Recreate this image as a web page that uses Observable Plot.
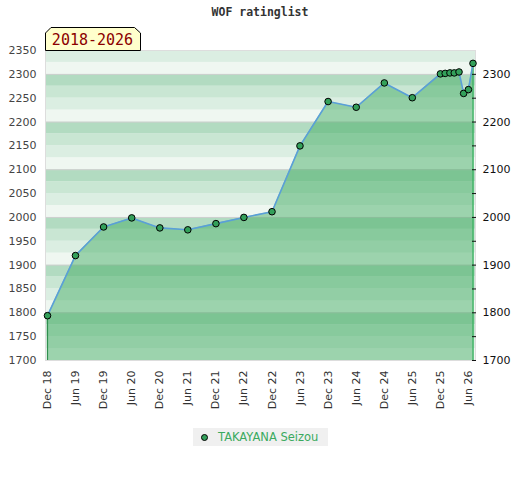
<!DOCTYPE html>
<html>
<head>
<meta charset="utf-8">
<script src="https://cdn.jsdelivr.net/npm/d3@7"></script>
<script src="https://cdn.jsdelivr.net/npm/@observablehq/plot@0.6"></script>
<style>
  html, body { margin: 0; padding: 0; background: #fff; }
  #wrap { position: relative; width: 520px; height: 480px; overflow: hidden; }
  #title { position: absolute; top: 5px; left: 0; width: 520px; text-align: center;
           font: bold 11.5px "DejaVu Sans Mono", monospace; color: #333; }
  #legend { position: absolute; left: 193px; top: 428px; width: 135px; height: 18px;
            background: #f0f0f0; font: 11.5px "DejaVu Sans", sans-serif; color: #3aaa5e;
            line-height: 18px; }
  #legend .dot { position: absolute; left: 8px; top: 5.5px; width: 5px; height: 5px;
                 border-radius: 50%; background: #33a05a; border: 1px solid #000; }
  #legend .txt { position: absolute; left: 25px; top: 0; white-space: nowrap; }
  #chart { position: absolute; left: 0; top: 0; }
</style>
</head>
<body>
<div id="wrap">
  <div id="chart"></div>
  <div id="title">WOF ratinglist</div>
  <div id="legend"><span class="dot"></span><span class="txt">TAKAYANA Seizou</span></div>
</div>
<script>
// ---- data ----
const months = ["2018-12","2019-06","2019-12","2020-06","2020-12","2021-06","2021-12",
  "2022-06","2022-12","2023-06","2023-12","2024-06","2024-12","2025-06",
  "2025-12","2026-01","2026-02","2026-03","2026-04","2026-05","2026-06","2026-07"];
const ratings = [1794,1920,1980,1999,1978,1974,1987,2000,2012,2150,2243,2231,2282,2251,
  2301,2302,2303,2303,2305,2260,2268,2323];
const tickMonths = ["2018-12","2019-06","2019-12","2020-06","2020-12","2021-06","2021-12",
  "2022-06","2022-12","2023-06","2023-12","2024-06","2024-12","2025-06","2025-12","2026-06"];
const leftTicks = [1700,1750,1800,1850,1900,1950,2000,2050,2100,2150,2200,2250,2300,2350];
const rightLabels = [1700,1800,1900,2000,2100,2200,2300];
const rightTicks = [1700,1750,1800,1850,1900,1950,2000,2050,2100,2150,2200,2250,2300];
const gridLines = [1800,1900,2000,2100,2200,2300];
const periodLabel = "2018-2026";
const playerName = "TAKAYANA Seizou";
document.querySelector("#legend .txt").textContent = playerName;

const toDate = (m) => new Date(m + "-01T00:00:00Z");
const data = months.map((m, i) => ({date: toDate(m), value: ratings[i]}));
const first = data[0], last = data[data.length - 1];

// background stripes, 25 points each
const bandColors = ["#eff7f1", "#dbeee2", "#c9e6d3", "#b2dbc1"];
const bands = d3.range(1700, 2350, 25).map((v, i) => ({y1: v, y2: v + 25, c: bandColors[i % 4]}));

const labelBox = () => {
  const g = d3.create("svg:g");
  g.append("path")
    .attr("d", "M45.5,50.5 V33 L51,27.5 H134.5 L140.5,33 V50.5 Z")
    .attr("fill", "#ffffcc").attr("stroke", "#000").attr("stroke-width", 1);
  g.append("text")
    .attr("x", 92.5).attr("y", 45)
    .attr("text-anchor", "middle")
    .attr("fill", "#8b0000")
    .style("font", "15px 'DejaVu Sans Mono', monospace")
    .text(periodLabel);
  return g.node();
};

const fmt = (d) => String(d);

const chart = Plot.plot({
  width: 520,
  height: 480,
  marginTop: 50,
  marginBottom: 120,
  marginLeft: 45,
  marginRight: 45,
  style: {fontFamily: "DejaVu Sans, sans-serif", fontSize: "11px", color: "#333", background: "transparent"},
  x: {type: "utc", domain: [first.date, last.date], range: [47, 472.5]},
  y: {domain: [1700, 2350]},
  marks: [
    Plot.rectY(bands, {y1: "y1", y2: "y2", fill: "c"}),
    Plot.ruleY(gridLines, {stroke: "#cfcfcf", strokeWidth: 1}),
    Plot.frame({stroke: "#dddddd"}),
    Plot.areaY(data, {x: "date", y1: 1700, y2: "value", fill: "#3fa960", fillOpacity: 0.47}),
    Plot.ruleX([first], {x: "date", y1: 1700, y2: "value", stroke: "#2f8f4e", strokeWidth: 1.2}),
    Plot.ruleX([last], {x: "date", y1: 1700, y2: "value", stroke: "#3ab060", strokeWidth: 1.5}),
    Plot.line(data, {x: "date", y: "value", stroke: "#5a9fd8", strokeWidth: 1.6}),
    Plot.dot(data, {x: "date", y: "value", r: 3.3, fill: "#33a05a", stroke: "#000", strokeWidth: 1}),
    Plot.axisY({anchor: "left", ticks: leftTicks, tickFormat: fmt, tickSize: 0, tickPadding: 9, label: null, fill: "#444"}),
    Plot.axisY({anchor: "right", ticks: rightLabels, tickFormat: fmt, tickSize: 0, tickPadding: 7, label: null, fill: "#111"}),
    Plot.axisY({anchor: "right", ticks: rightTicks, tickSize: 4, dx: -4, tickFormat: () => "", label: null, stroke: "#111"}),
    Plot.axisX({ticks: tickMonths.map(toDate), tickFormat: d3.utcFormat("%b %y"), tickRotate: -90,
                tickSize: 0, tickPadding: 10, label: null, fill: "#333"}),
    labelBox
  ]
});
document.getElementById("chart").appendChild(chart);
</script>
</body>
</html>
